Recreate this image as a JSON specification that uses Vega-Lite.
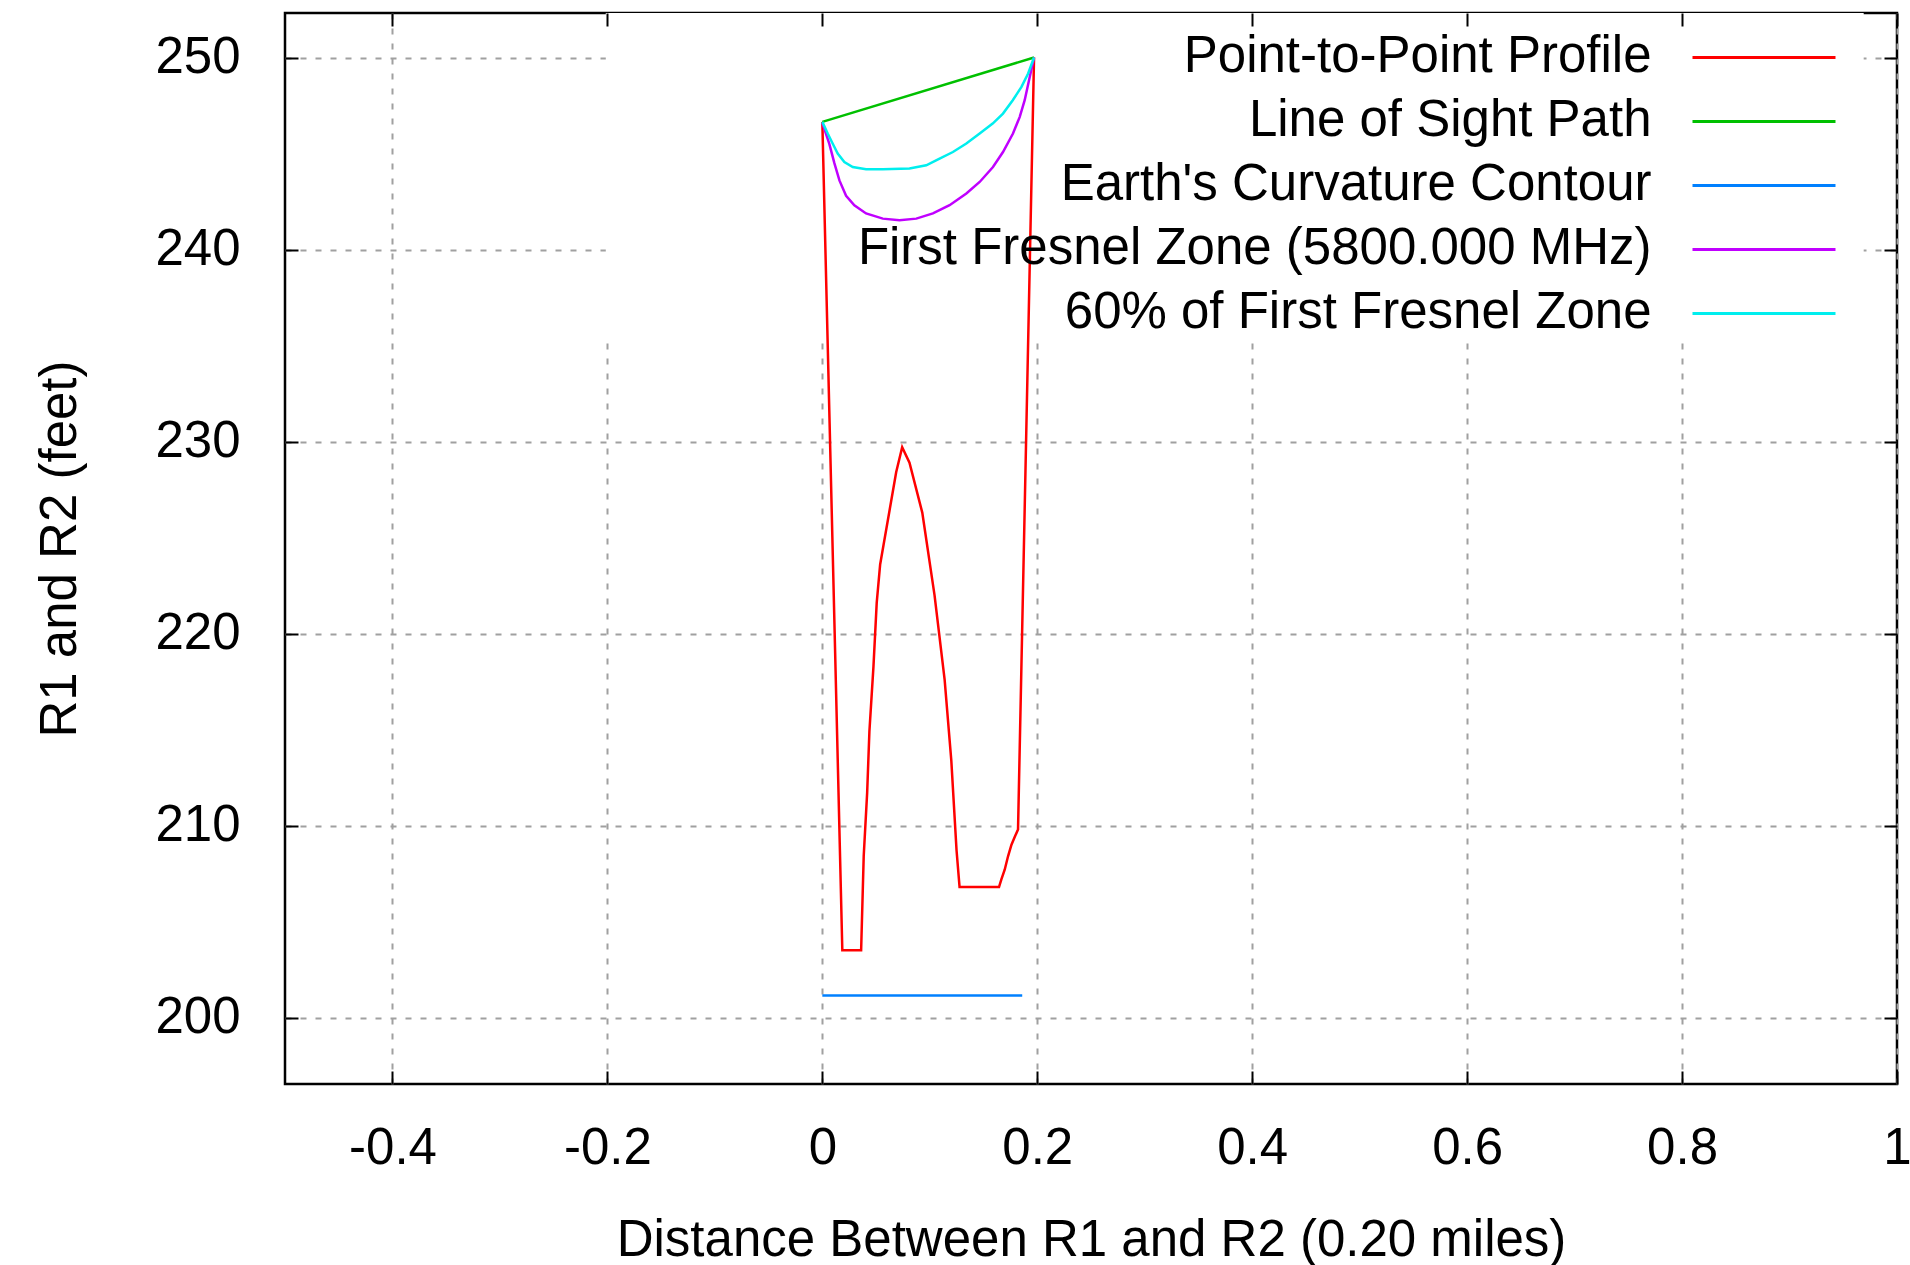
{
  "$schema": "https://vega.github.io/schema/vega-lite/v6.json",
  "width": 1612,
  "height": 1071,
  "autosize": {"type": "none"},
  "padding": {"left": 285, "top": 13, "right": 13, "bottom": 181},
  "background": "white",
  "config": {
    "font": "Liberation Sans",
    "view": {"stroke": "black", "strokeWidth": 2.5},
    "axis": {
      "labelFont": "Liberation Sans", "labelFontSize": 51, "labelColor": "black",
      "titleFont": "Liberation Sans", "titleFontSize": 51, "titleFontWeight": "normal", "titleColor": "black",
      "tickColor": "black", "tickWidth": 2, "tickSize": -13, "domain": false,
      "gridColor": "#a0a0a0", "gridDash": [6, 9], "gridWidth": 2, "gridOpacity": 1,
      "labelFlush": false, "labelOverlap": false
    }
  },
  "resolve": {"axis": {"x": "independent", "y": "independent"}},
  "layer": [
    {
      "data": {"values": [{}]},
      "mark": {"type": "rect", "fill": "white"},
      "encoding": {
        "x": {"datum": -0.2015, "type": "quantitative",
              "scale": {"domain": [-0.5, 1], "nice": false, "zero": false},
              "axis": {"orient": "top", "labels": false, "grid": false, "title": null, "zindex": 1, "values": [-0.4, -0.2, 0, 0.2, 0.4, 0.6, 0.8, 1]}},
        "x2": {"datum": 0.969},
        "y": {"datum": 235.15, "type": "quantitative",
              "scale": {"domain": [196.54, 252.32], "nice": false, "zero": false},
              "axis": {"orient": "right", "labels": false, "grid": false, "title": null, "zindex": 1, "values": [200, 210, 220, 230, 240, 250]}},
        "y2": {"datum": 252.32}
      }
    },
    {
      "data": {"name": "lines"},
      "mark": {"type": "line", "strokeWidth": 2.5, "interpolate": "linear"},
      "encoding": {
        "x": {"field": "distance", "type": "quantitative",
              "scale": {"domain": [-0.5, 1], "nice": false, "zero": false},
              "axis": {"orient": "bottom", "grid": true, "zindex": 0, "values": [-0.4, -0.2, 0, 0.2, 0.4, 0.6, 0.8, 1],
                       "labelExpr": "'' + datum.value", "labelPadding": 52, "titlePadding": 42,
                       "title": "Distance Between R1 and R2 (0.20 miles)"}},
        "y": {"field": "height", "type": "quantitative",
              "scale": {"domain": [196.54, 252.32], "nice": false, "zero": false},
              "axis": {"orient": "left", "grid": true, "zindex": 0, "values": [200, 210, 220, 230, 240, 250],
                       "labelPadding": 58, "titlePadding": 68, "title": "R1 and R2 (feet)"}},
        "order": {"field": "i", "type": "quantitative"},
        "color": {"field": "series", "type": "nominal",
                  "scale": {"domain": ["Point-to-Point Profile", "Line of Sight Path", "Earth's Curvature Contour", "First Fresnel Zone (5800.000 MHz)", "60% of First Fresnel Zone"],
                            "range": ["#ff0000", "#00c000", "#0080ff", "#c000ff", "#00eeee"]},
                  "legend": {"orient": "none", "legendX": 1453.5, "legendY": 18.9, "title": null, "padding": 0,
                             "symbolType": "M-3,0H3", "symbolSize": 2272, "symbolStrokeWidth": 3,
                             "labelFont": "Liberation Sans", "labelFontSize": 51, "labelColor": "black",
                             "labelAlign": "right", "labelOffset": -138, "labelLimit": 2000, "rowPadding": 12,
                             "labelBaseline": "middle"}}
      }
    }
  ],
  "datasets": {
    "lines": [
      {"series": "Point-to-Point Profile", "i": 0, "distance": 0, "height": 246.65},
      {"series": "Point-to-Point Profile", "i": 1, "distance": 0.0186, "height": 203.5},
      {"series": "Point-to-Point Profile", "i": 2, "distance": 0.0361, "height": 203.5},
      {"series": "Point-to-Point Profile", "i": 3, "distance": 0.0385, "height": 208.4},
      {"series": "Point-to-Point Profile", "i": 4, "distance": 0.0417, "height": 211.7},
      {"series": "Point-to-Point Profile", "i": 5, "distance": 0.0438, "height": 214.9},
      {"series": "Point-to-Point Profile", "i": 6, "distance": 0.0476, "height": 218.3},
      {"series": "Point-to-Point Profile", "i": 7, "distance": 0.0506, "height": 221.6},
      {"series": "Point-to-Point Profile", "i": 8, "distance": 0.0538, "height": 223.6},
      {"series": "Point-to-Point Profile", "i": 9, "distance": 0.0569, "height": 224.6},
      {"series": "Point-to-Point Profile", "i": 10, "distance": 0.0625, "height": 226.4},
      {"series": "Point-to-Point Profile", "i": 11, "distance": 0.0687, "height": 228.4},
      {"series": "Point-to-Point Profile", "i": 12, "distance": 0.0743, "height": 229.7},
      {"series": "Point-to-Point Profile", "i": 13, "distance": 0.0811, "height": 228.9},
      {"series": "Point-to-Point Profile", "i": 14, "distance": 0.093, "height": 226.3},
      {"series": "Point-to-Point Profile", "i": 15, "distance": 0.1044, "height": 222.0},
      {"series": "Point-to-Point Profile", "i": 16, "distance": 0.1138, "height": 217.6},
      {"series": "Point-to-Point Profile", "i": 17, "distance": 0.12, "height": 213.4},
      {"series": "Point-to-Point Profile", "i": 18, "distance": 0.1249, "height": 208.7},
      {"series": "Point-to-Point Profile", "i": 19, "distance": 0.1277, "height": 206.8},
      {"series": "Point-to-Point Profile", "i": 20, "distance": 0.1644, "height": 206.8},
      {"series": "Point-to-Point Profile", "i": 21, "distance": 0.1666, "height": 207.2},
      {"series": "Point-to-Point Profile", "i": 22, "distance": 0.1697, "height": 207.7},
      {"series": "Point-to-Point Profile", "i": 23, "distance": 0.1728, "height": 208.4},
      {"series": "Point-to-Point Profile", "i": 24, "distance": 0.176, "height": 209.0},
      {"series": "Point-to-Point Profile", "i": 25, "distance": 0.179, "height": 209.4},
      {"series": "Point-to-Point Profile", "i": 26, "distance": 0.1821, "height": 209.8},
      {"series": "Point-to-Point Profile", "i": 27, "distance": 0.197, "height": 250},
      {"series": "Line of Sight Path", "i": 0, "distance": 0, "height": 246.65},
      {"series": "Line of Sight Path", "i": 1, "distance": 0.197, "height": 250},
      {"series": "Earth's Curvature Contour", "i": 0, "distance": 0, "height": 201.15},
      {"series": "Earth's Curvature Contour", "i": 1, "distance": 0.186, "height": 201.15},
      {"series": "First Fresnel Zone (5800.000 MHz)", "i": 0, "distance": 0, "height": 246.6},
      {"series": "First Fresnel Zone (5800.000 MHz)", "i": 1, "distance": 0.0065, "height": 245.5},
      {"series": "First Fresnel Zone (5800.000 MHz)", "i": 2, "distance": 0.0112, "height": 244.5},
      {"series": "First Fresnel Zone (5800.000 MHz)", "i": 3, "distance": 0.0159, "height": 243.6},
      {"series": "First Fresnel Zone (5800.000 MHz)", "i": 4, "distance": 0.0221, "height": 242.8},
      {"series": "First Fresnel Zone (5800.000 MHz)", "i": 5, "distance": 0.0298, "height": 242.3},
      {"series": "First Fresnel Zone (5800.000 MHz)", "i": 6, "distance": 0.0407, "height": 241.88},
      {"series": "First Fresnel Zone (5800.000 MHz)", "i": 7, "distance": 0.0563, "height": 241.61},
      {"series": "First Fresnel Zone (5800.000 MHz)", "i": 8, "distance": 0.0718, "height": 241.53},
      {"series": "First Fresnel Zone (5800.000 MHz)", "i": 9, "distance": 0.0874, "height": 241.61},
      {"series": "First Fresnel Zone (5800.000 MHz)", "i": 10, "distance": 0.1029, "height": 241.88},
      {"series": "First Fresnel Zone (5800.000 MHz)", "i": 11, "distance": 0.1184, "height": 242.31},
      {"series": "First Fresnel Zone (5800.000 MHz)", "i": 12, "distance": 0.134, "height": 242.92},
      {"series": "First Fresnel Zone (5800.000 MHz)", "i": 13, "distance": 0.1464, "height": 243.52},
      {"series": "First Fresnel Zone (5800.000 MHz)", "i": 14, "distance": 0.1588, "height": 244.3},
      {"series": "First Fresnel Zone (5800.000 MHz)", "i": 15, "distance": 0.1681, "height": 245.08},
      {"series": "First Fresnel Zone (5800.000 MHz)", "i": 16, "distance": 0.1774, "height": 246.04},
      {"series": "First Fresnel Zone (5800.000 MHz)", "i": 17, "distance": 0.1837, "height": 246.91},
      {"series": "First Fresnel Zone (5800.000 MHz)", "i": 18, "distance": 0.1883, "height": 247.78},
      {"series": "First Fresnel Zone (5800.000 MHz)", "i": 19, "distance": 0.193, "height": 248.99},
      {"series": "First Fresnel Zone (5800.000 MHz)", "i": 20, "distance": 0.197, "height": 250},
      {"series": "60% of First Fresnel Zone", "i": 0, "distance": 0, "height": 246.65},
      {"series": "60% of First Fresnel Zone", "i": 1, "distance": 0.005, "height": 246.04},
      {"series": "60% of First Fresnel Zone", "i": 2, "distance": 0.0096, "height": 245.52},
      {"series": "60% of First Fresnel Zone", "i": 3, "distance": 0.0143, "height": 245.0},
      {"series": "60% of First Fresnel Zone", "i": 4, "distance": 0.0205, "height": 244.56},
      {"series": "60% of First Fresnel Zone", "i": 5, "distance": 0.0283, "height": 244.3},
      {"series": "60% of First Fresnel Zone", "i": 6, "distance": 0.0407, "height": 244.18},
      {"series": "60% of First Fresnel Zone", "i": 7, "distance": 0.0563, "height": 244.18},
      {"series": "60% of First Fresnel Zone", "i": 8, "distance": 0.0811, "height": 244.22},
      {"series": "60% of First Fresnel Zone", "i": 9, "distance": 0.0967, "height": 244.39},
      {"series": "60% of First Fresnel Zone", "i": 10, "distance": 0.1091, "height": 244.74},
      {"series": "60% of First Fresnel Zone", "i": 11, "distance": 0.1215, "height": 245.08},
      {"series": "60% of First Fresnel Zone", "i": 12, "distance": 0.134, "height": 245.52},
      {"series": "60% of First Fresnel Zone", "i": 13, "distance": 0.1464, "height": 246.04},
      {"series": "60% of First Fresnel Zone", "i": 14, "distance": 0.1585, "height": 246.56},
      {"series": "60% of First Fresnel Zone", "i": 15, "distance": 0.1681, "height": 247.08},
      {"series": "60% of First Fresnel Zone", "i": 16, "distance": 0.1772, "height": 247.78},
      {"series": "60% of First Fresnel Zone", "i": 17, "distance": 0.1853, "height": 248.47},
      {"series": "60% of First Fresnel Zone", "i": 18, "distance": 0.1915, "height": 249.17},
      {"series": "60% of First Fresnel Zone", "i": 19, "distance": 0.197, "height": 250}
    ]
  }
}
